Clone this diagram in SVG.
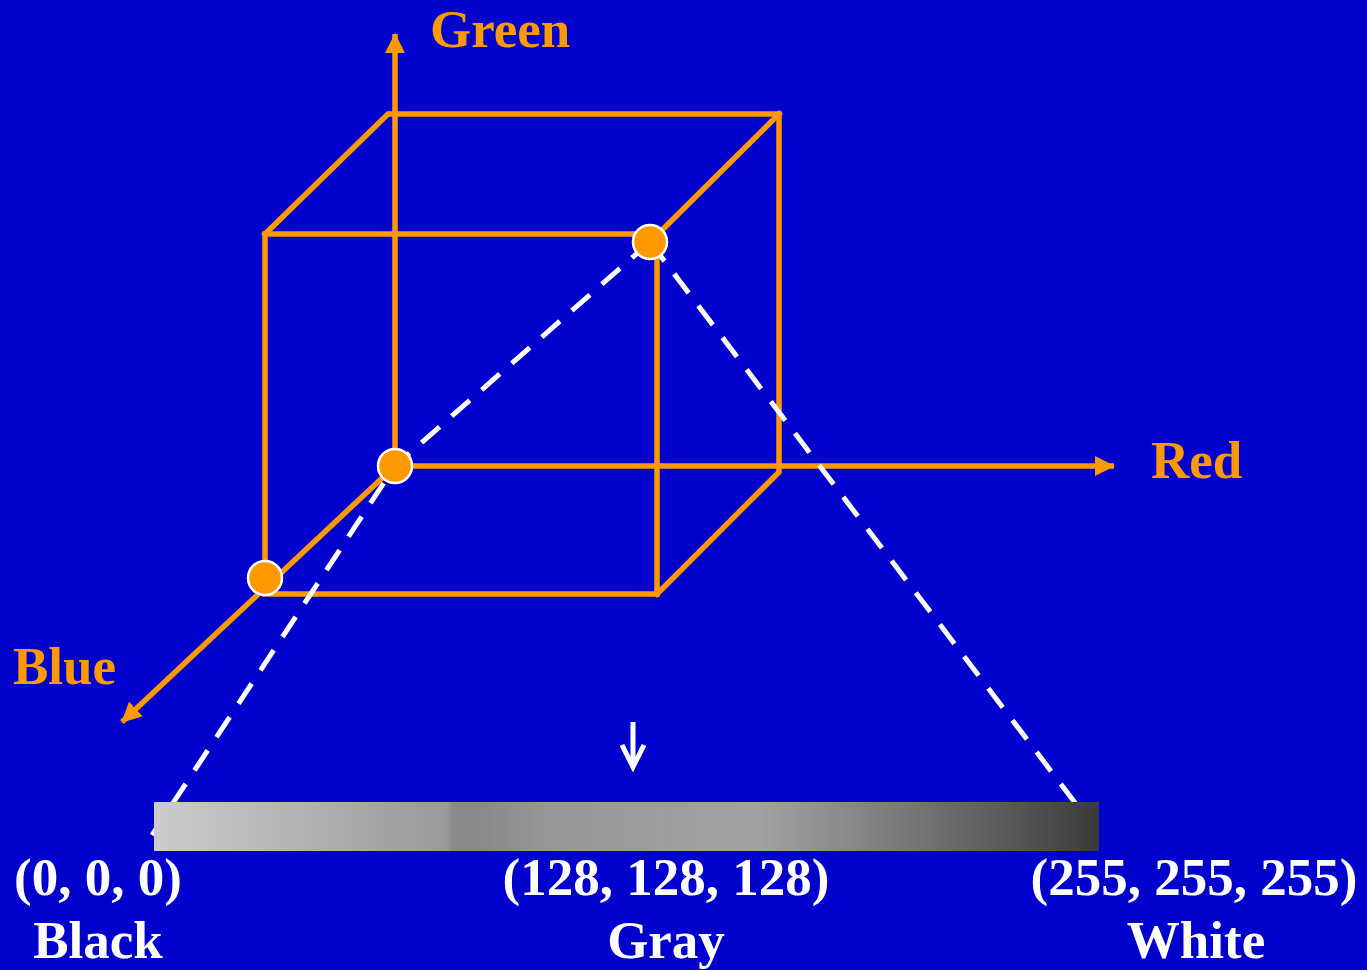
<svg xmlns="http://www.w3.org/2000/svg" width="1367" height="970" viewBox="0 0 1367 970">
<style>
.edge{stroke:#FF9900;stroke-width:5.5;fill:none;stroke-linecap:square}
.axis{stroke:#FF9900;stroke-width:5.5;fill:none}
.dash{stroke:#FFFFFF;stroke-width:5;fill:none;stroke-dasharray:24 16}
.pt{fill:#FF9900;stroke:#FFFFFF;stroke-width:2.5}
.lbl{font-family:"Liberation Serif","Times New Roman",serif;font-weight:bold;font-size:53px}
.ax{fill:#FF9900}
.wt{fill:#FFFFFF}
</style>
<defs>
<marker id="ah" markerWidth="20" markerHeight="20" refX="19" refY="10" orient="auto" markerUnits="userSpaceOnUse" viewBox="0 0 20 20">
<path d="M0,0 L20,10 L0,20 Z" fill="#FF9900"/>
</marker>
<linearGradient id="gray" x1="0" y1="0" x2="1" y2="0">
<stop offset="0" stop-color="#cccccc"/>
<stop offset="0.31" stop-color="#999999"/>
<stop offset="0.316" stop-color="#8a8a8a"/>
<stop offset="0.34" stop-color="#888888"/>
<stop offset="0.41" stop-color="#969696"/>
<stop offset="0.64" stop-color="#a2a2a2"/>
<stop offset="0.79" stop-color="#7a7a7a"/>
<stop offset="0.9" stop-color="#5a5a5a"/>
<stop offset="1" stop-color="#3a3a3a"/>
</linearGradient>
</defs>
<rect width="1367" height="970" fill="#0000CC"/>
<g id="connectors">
<g id="cube">
<path class="edge" d="M265,234 H657 V594 H265 Z"/>
<path class="edge" d="M265,234 L388,114 H779 V472 L657,594"/>
<path class="edge" d="M650,242 L779,114"/>
</g>
<line id="green-axis" class="axis" x1="395" y1="466" x2="395" y2="34" marker-end="url(#ah)"/>
<line id="red-axis" class="axis" x1="395" y1="466" x2="1114" y2="466" marker-end="url(#ah)"/>
<line id="blue-axis" class="axis" x1="395" y1="466" x2="122" y2="722" marker-end="url(#ah)"/>
<polyline class="dash" points="650,242 395,466 152,835"/>
<line class="dash" x1="650" y1="242" x2="1079" y2="808"/>
<g id="down-arrow" stroke="#FFFFFF" stroke-width="5" fill="none">
<line x1="633" y1="722" x2="633" y2="764"/>
<polyline points="622,745 633,767 644,745" stroke-linejoin="miter"/>
</g>
</g>
<g id="point-white"><circle class="pt" cx="650" cy="242" r="17"/></g>
<g id="point-origin"><circle class="pt" cx="395" cy="466" r="17"/></g>
<g id="point-blue"><circle class="pt" cx="265" cy="578" r="17"/></g>
<g id="gray-bar"><rect x="154" y="802" width="945" height="49" fill="url(#gray)"/></g>
<g id="axis-labels">
<text class="lbl ax" x="430" y="47">Green</text>
<text class="lbl ax" x="1151" y="478">Red</text>
<text class="lbl ax" x="13" y="684">Blue</text>
</g>
<g id="black-label">
<text class="lbl wt" x="98" y="895" text-anchor="middle">(0, 0, 0)</text>
<text class="lbl wt" x="98" y="958" text-anchor="middle">Black</text>
</g>
<g id="gray-label">
<text class="lbl wt" x="666" y="895" text-anchor="middle">(128, 128, 128)</text>
<text class="lbl wt" x="666" y="958" text-anchor="middle">Gray</text>
</g>
<g id="white-label">
<text class="lbl wt" x="1194" y="895" text-anchor="middle">(255, 255, 255)</text>
<text class="lbl wt" x="1196" y="958" text-anchor="middle">White</text>
</g>
</svg>
